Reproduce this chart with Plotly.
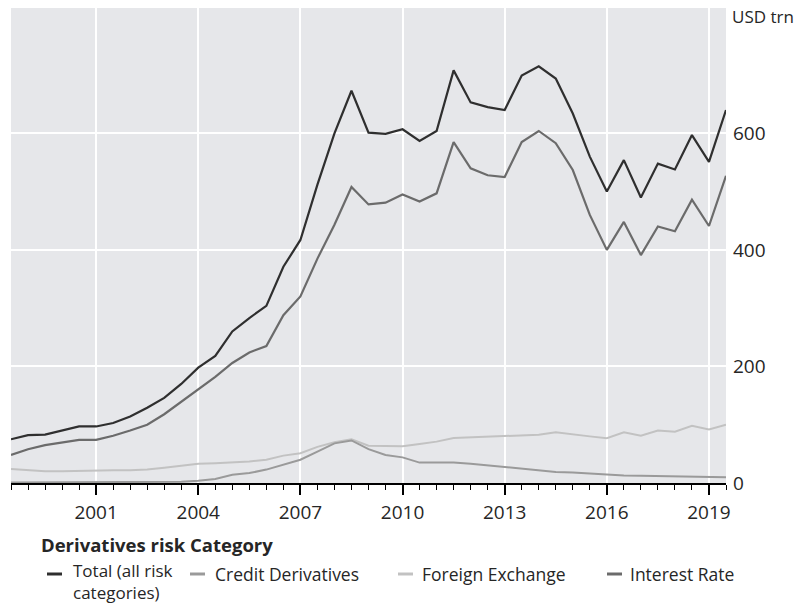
import plotly.graph_objects as go

# Half-yearly observation dates (mid-year / year-end), in decimal years
periods = [1998.5, 1999.0, 1999.5, 2000.0, 2000.5, 2001.0, 2001.5, 2002.0, 2002.5,
           2003.0, 2003.5, 2004.0, 2004.5, 2005.0, 2005.5, 2006.0, 2006.5, 2007.0,
           2007.5, 2008.0, 2008.5, 2009.0, 2009.5, 2010.0, 2010.5, 2011.0, 2011.5,
           2012.0, 2012.5, 2013.0, 2013.5, 2014.0, 2014.5, 2015.0, 2015.5, 2016.0,
           2016.5, 2017.0, 2017.5, 2018.0, 2018.5, 2019.0, 2019.5]

total = [75, 82, 83, 90, 97, 97, 103, 114, 129, 146, 170, 198, 218, 260, 283, 304,
         371, 417, 512, 600, 673, 601, 599, 607, 587, 604, 708, 653, 645, 640, 699,
         715, 694, 634, 560, 500, 554, 490, 548, 538, 597, 551, 640]

interest_rate = [48, 58, 65, 70, 74, 74, 81, 90, 100, 118, 139, 160, 182, 206, 224,
                 235, 288, 320, 385, 443, 508, 478, 481, 495, 483, 497, 585, 540, 528,
                 525, 585, 604, 583, 537, 460, 400, 448, 391, 440, 432, 486, 441, 527]

foreign_exchange = [24, 22, 20, 20, 21, 21, 22, 22, 23, 26, 30, 33, 34, 35, 37, 40, 47,
                    51, 62, 70, 75, 64, 63, 63, 67, 71, 77, 78, 80, 81, 82, 83, 87, 83,
                    80, 77, 87, 81, 90, 88, 98, 92, 100]

credit = [1, 1, 1, 1, 1, 1, 1, 1, 1, 1, 2, 4, 7, 14, 17, 23, 31, 40, 54, 68, 73, 58,
          48, 44, 35, 35, 35, 33, 30, 28, 25, 22, 19, 18, 16, 14, 13, 12.5, 12, 11, 11,
          10, 10]

series_names = ["Total (all risk<br>categories)", "Credit Derivatives",
                "Foreign Exchange", "Interest Rate"]
colors = ["#2f2f2f", "#9a9a9a", "#c2c2c2", "#6b6b6b"]
widths = [2.2, 2.0, 2.0, 2.2]

y_tick_vals = [0, 200, 400, 600]
x_tick_vals = [2001, 2004, 2007, 2010, 2013, 2016, 2019]
x_tick_text = ["2001", "2004", "2007", "2010", "2013", "2016", "2019"]
unit_label = "USD trn"
legend_title = "Derivatives risk Category"

FONT = "'Open Sans', 'Noto Sans', sans-serif"
TXT = "#262626"

W, H = 807, 607
L, R, T, B = 11, 726, 8, 483

fig = go.Figure()
data_series = [total, credit, foreign_exchange, interest_rate]
draw_order = [2, 1, 3, 0]  # light lines first, total on top
for i in draw_order:
    fig.add_trace(go.Scatter(
        x=periods, y=data_series[i], mode="lines",
        name=series_names[i].replace("<br>", " "),
        line=dict(color=colors[i], width=widths[i]),
        showlegend=False, hoverinfo="x+y+name"))

def pxx(x):
    return (x - L) / (R - L)

def pyy(y):
    return (B - y) / (B - T)

shapes = []
annotations = []

# unit label at the top of the right axis
annotations.append(dict(text=unit_label, xref="paper", yref="y", x=1, y=800,
                        xanchor="left", yanchor="middle", xshift=4, showarrow=False,
                        font=dict(family=FONT, size=17, color=TXT)))

# legend title
annotations.append(dict(text="<b>" + legend_title + "</b>", xref="paper", yref="paper",
                        x=pxx(39), y=pyy(544), xanchor="left", yanchor="middle",
                        showarrow=False, font=dict(family=FONT, size=18.5, color=TXT)))

# legend entries (dash + label)
legend_dash_x = [47, 190, 398, 607]
legend_text_x = [71, 213, 420, 628]
row_y = 574
for i in range(4):
    shapes.append(dict(type="line", xref="paper", yref="paper",
                       x0=pxx(legend_dash_x[i]), x1=pxx(legend_dash_x[i] + 15),
                       y0=pyy(row_y), y1=pyy(row_y),
                       line=dict(color=colors[i], width=3)))
    if "<br>" in series_names[i]:
        annotations.append(dict(text=series_names[i], xref="paper", yref="paper",
                                x=pxx(legend_text_x[i]), y=pyy(606),
                                xanchor="left", yanchor="bottom", align="left",
                                showarrow=False,
                                font=dict(family=FONT, size=17, color=TXT)))
    else:
        annotations.append(dict(text=series_names[i], xref="paper", yref="paper",
                                x=pxx(legend_text_x[i]), y=pyy(row_y),
                                xanchor="left", yanchor="middle", showarrow=False,
                                font=dict(family=FONT, size=17.5, color=TXT)))

fig.update_layout(
    width=W, height=H,
    margin=dict(l=L, r=W - R, t=T, b=H - B, pad=0),
    paper_bgcolor="white",
    plot_bgcolor="#e6e7ea",
    font=dict(family=FONT, size=19, color=TXT),
    showlegend=False,
    shapes=shapes,
    annotations=annotations,
    xaxis=dict(
        range=[1998.5, 2019.5],
        tickmode="array", tickvals=x_tick_vals, ticktext=x_tick_text,
        ticks="outside", ticklen=10, tickwidth=1.5, tickcolor="black",
        showline=True, linecolor="black", linewidth=2,
        showgrid=True, gridcolor="white", gridwidth=2,
        zeroline=False,
        tickfont=dict(family=FONT, size=19, color=TXT),
        ticklabelstandoff=1,
        minor=dict(dtick=0.5, tick0=1998.5, ticks="outside", ticklen=5,
                   tickwidth=1, tickcolor="black", showgrid=False),
    ),
    yaxis=dict(
        side="right", range=[0, 815],
        tickmode="array", tickvals=y_tick_vals,
        ticks="", showline=False, zeroline=False,
        showgrid=True, gridcolor="white", gridwidth=2,
        tickfont=dict(family=FONT, size=19, color=TXT),
        ticklabelstandoff=6,
    ),
)

fig.write_html("out.html",
               config={"displayModeBar": False},
               post_script="document.body.style.margin='0';document.body.style.overflow='hidden';")
